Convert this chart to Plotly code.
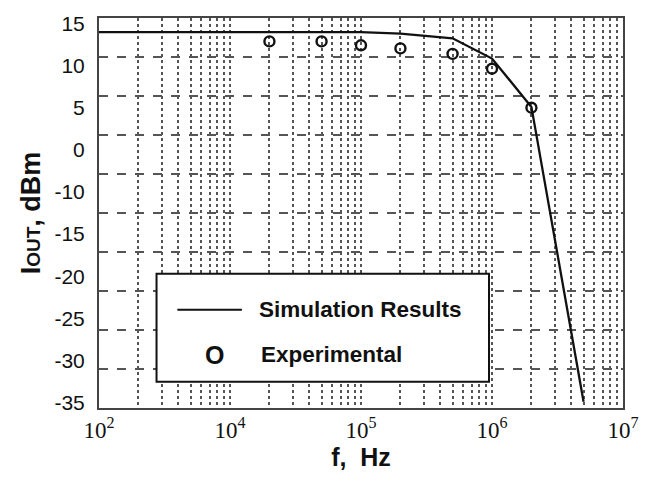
import plotly.graph_objects as go

# ---- data ----
sim_freq = [1e3, 1e4, 1e5, 2e5, 5e5, 1e6, 2e6, 5e6]
sim_iout = [13.2, 13.2, 13.2, 13.0, 12.4, 9.8, 3.6, -34.2]

exp_freq = [2e4, 5e4, 1e5, 2e5, 5e5, 1e6, 2e6]
exp_iout = [12.0, 12.0, 11.5, 11.1, 10.4, 8.5, 3.5]

# tick labels as printed on the original figure
x_tick_vals = [1e3, 1e4, 1e5, 1e6, 1e7]
x_tick_text = ["10<sup>2</sup>", "10<sup>4</sup>", "10<sup>5</sup>", "10<sup>6</sup>", "10<sup>7</sup>"]
y_tick_text = ["15", "10", "5", "0", "-10", "-15", "-20", "-25", "-30", "-35"]
y_top_label, y_bottom_label = 14.3, -34.3
y_tick_vals = [y_top_label + i * (y_bottom_label - y_top_label) / (len(y_tick_text) - 1)
               for i in range(len(y_tick_text))]

x_grid = [m * 10 ** e for e in range(3, 7) for m in range(1, 11)][1:]
y_grid = [10, 5, 0, -5, -10, -15, -20, -25, -30]

fig = go.Figure()
fig.add_trace(go.Scatter(x=sim_freq, y=sim_iout, mode="lines",
                         line=dict(color="#111", width=2.3), showlegend=False,
                         name="Simulation Results"))
fig.add_trace(go.Scatter(x=exp_freq, y=exp_iout, mode="markers",
                         marker=dict(symbol="circle-open", size=10, color="#111",
                                     line=dict(width=2.4, color="#111")),
                         showlegend=False, name="Experimental"))

grid_color = "#555"
fig.update_xaxes(type="log", range=[3, 7],
                 tickmode="array", tickvals=x_tick_vals, ticktext=x_tick_text,
                 tickfont=dict(family="Liberation Serif", size=23, color="#111"),
                 showgrid=False, zeroline=False, ticks="",
                 showline=True, mirror=True, linecolor="#444", linewidth=2,
                 minor=dict(tickmode="array", tickvals=x_grid, showgrid=True,
                            gridcolor=grid_color, griddash="dot", gridwidth=1.6, ticks=""),
                 title=dict(text="<b>f,  Hz</b>", font=dict(family="Liberation Sans", size=25, color="#111"),
                            standoff=6))
fig.update_yaxes(range=[-35, 15],
                 tickmode="array", tickvals=y_tick_vals, ticktext=y_tick_text,
                 tickfont=dict(family="Liberation Sans", size=21, color="#111"),
                 showgrid=False, zeroline=False, ticks="outside", ticklen=8, tickcolor="rgba(0,0,0,0)",
                 showline=True, mirror=True, linecolor="#444", linewidth=2,
                 minor=dict(tickmode="array", tickvals=y_grid, showgrid=True,
                            gridcolor=grid_color, griddash="dash", gridwidth=1.6, ticks=""),
                 title=dict(text="<b>I<span style='font-size:19px'>OUT</span>, dBm</b>",
                            font=dict(family="Liberation Sans", size=27, color="#111"),
                            standoff=6))

# legend box drawn as in the original figure
fig.add_shape(type="rect", xref="paper", yref="paper", x0=0.1098, x1=0.7443, y0=0.0674, y1=0.3444,
              line=dict(color="#111", width=2), fillcolor="white", layer="above")
fig.add_shape(type="line", xref="paper", yref="paper", x0=0.1496, x1=0.2727, y0=0.2521, y1=0.2521,
              line=dict(color="#111", width=2), layer="above")
fig.add_annotation(xref="paper", yref="paper", x=0.3011, y=0.2521, xanchor="left", yanchor="middle",
                   text="<b>Simulation Results</b>", showarrow=False,
                   font=dict(family="Liberation Sans", size=22.5, color="#111"))
fig.add_annotation(xref="paper", yref="paper", x=0.2197, y=0.1367, xanchor="center", yanchor="middle",
                   text="<b>O</b>", showarrow=False,
                   font=dict(family="Liberation Sans", size=25, color="#111"))
fig.add_annotation(xref="paper", yref="paper", x=0.3049, y=0.1367, xanchor="left", yanchor="middle",
                   text="<b>Experimental</b>", showarrow=False,
                   font=dict(family="Liberation Sans", size=22.5, color="#111"))

fig.update_layout(width=651, height=478,
                  margin=dict(l=99, r=24, t=18, b=70),
                  paper_bgcolor="white", plot_bgcolor="white", showlegend=False)

fig.write_html("out.html")
